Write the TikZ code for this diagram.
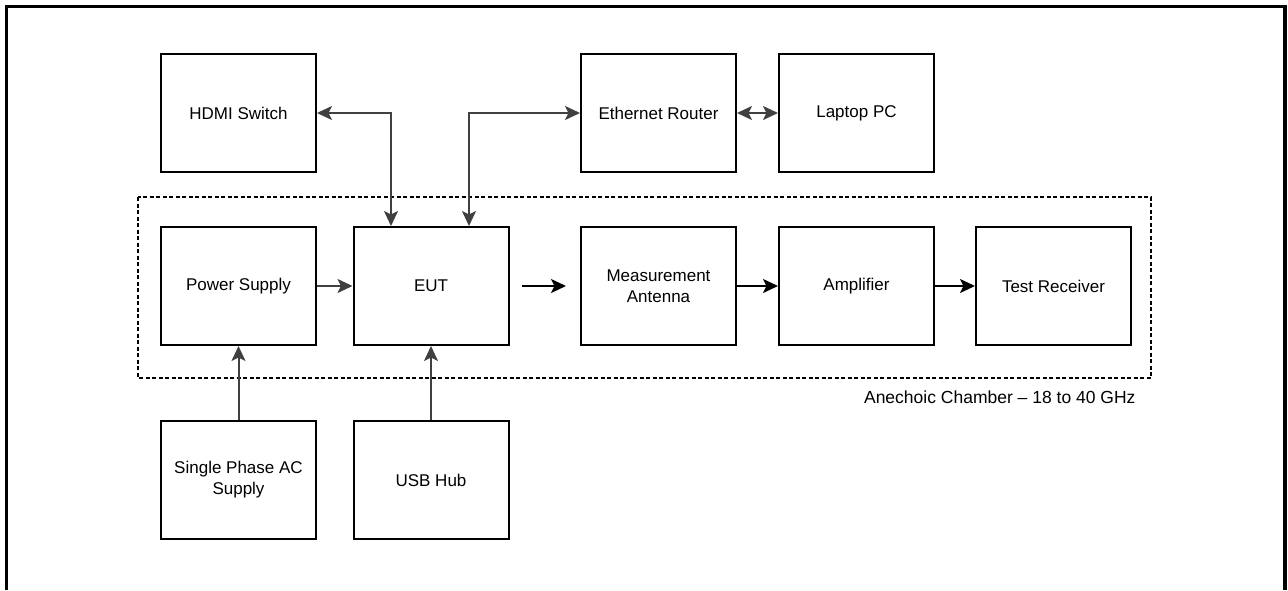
\documentclass[tikz,border=0pt]{standalone}
\usepackage{fontspec}
\setmainfont{Liberation Sans}
\usetikzlibrary{arrows.meta,calc}

\begin{document}
\begin{tikzpicture}[x=1pt,y=1pt,
      box/.style={
        rectangle,
        draw,
        line width=2pt,
        minimum width=155pt,
        minimum height=118pt,
        align=center,
        font=\fontsize{17}{21}\selectfont
      },
      >={Stealth[length=15pt,width=14pt,inset=3.5pt]},
      link/.style={draw=black!75,line width=2pt},
      sig/.style={draw=black,line width=2pt}
    ]
    \useasboundingbox (0,0) rectangle (1288,-590);
    \draw[line width=3.5pt] (6.5,-590) -- (6.5,-6.5) -- (1285,-6.5) -- (1285,-590);

    % chamber outline
    \draw[line width=2pt,dash pattern=on 4pt off 2.5pt] (138,-197) rectangle (1151,-378);
    \node[anchor=east,font=\fontsize{17.5}{21}\selectfont] (chamber) at (1139,-397) {Anechoic Chamber -- 18 to 40 GHz};

    \node[box] (hdmi) at (238.5,-113) {HDMI Switch};
    \node[box] (router) at (658.5,-113) {Ethernet Router};
    \node[box] (laptop) at (856.5,-113) {Laptop PC};
    \node[box] (psu) at (238.5,-286) {Power Supply};
    \node[box] (eut) at (431,-286) {EUT};
    \node[box] (antenna) at (658.5,-286) {Measurement\\Antenna};
    \node[box] (amp) at (856.5,-286) {Amplifier};
    \node[box] (rx) at (1053.5,-286) {Test Receiver};
    \node[box] (mains) at (238.5,-480) {Single Phase AC\\Supply};
    \node[box] (usb) at (431,-480) {USB Hub};

    \draw[link,<->] (hdmi.east) -| ([xshift=-40pt]eut.north);
    \draw[link,<->] ([xshift=38pt]eut.north) |- (router.west);
    \draw[link,<->] (router) -- (laptop);
    \draw[link,->] (psu) -- (eut);
    \draw[link,->] (mains) -- (psu);
    \draw[link,->] (usb) -- (eut);
    \draw[sig,->,shorten <=12pt,shorten >=14pt] (eut) -- (antenna);
    \draw[sig,->] (antenna) -- (amp);
    \draw[sig,->] (amp) -- (rx);
  \end{tikzpicture}
\end{document}
